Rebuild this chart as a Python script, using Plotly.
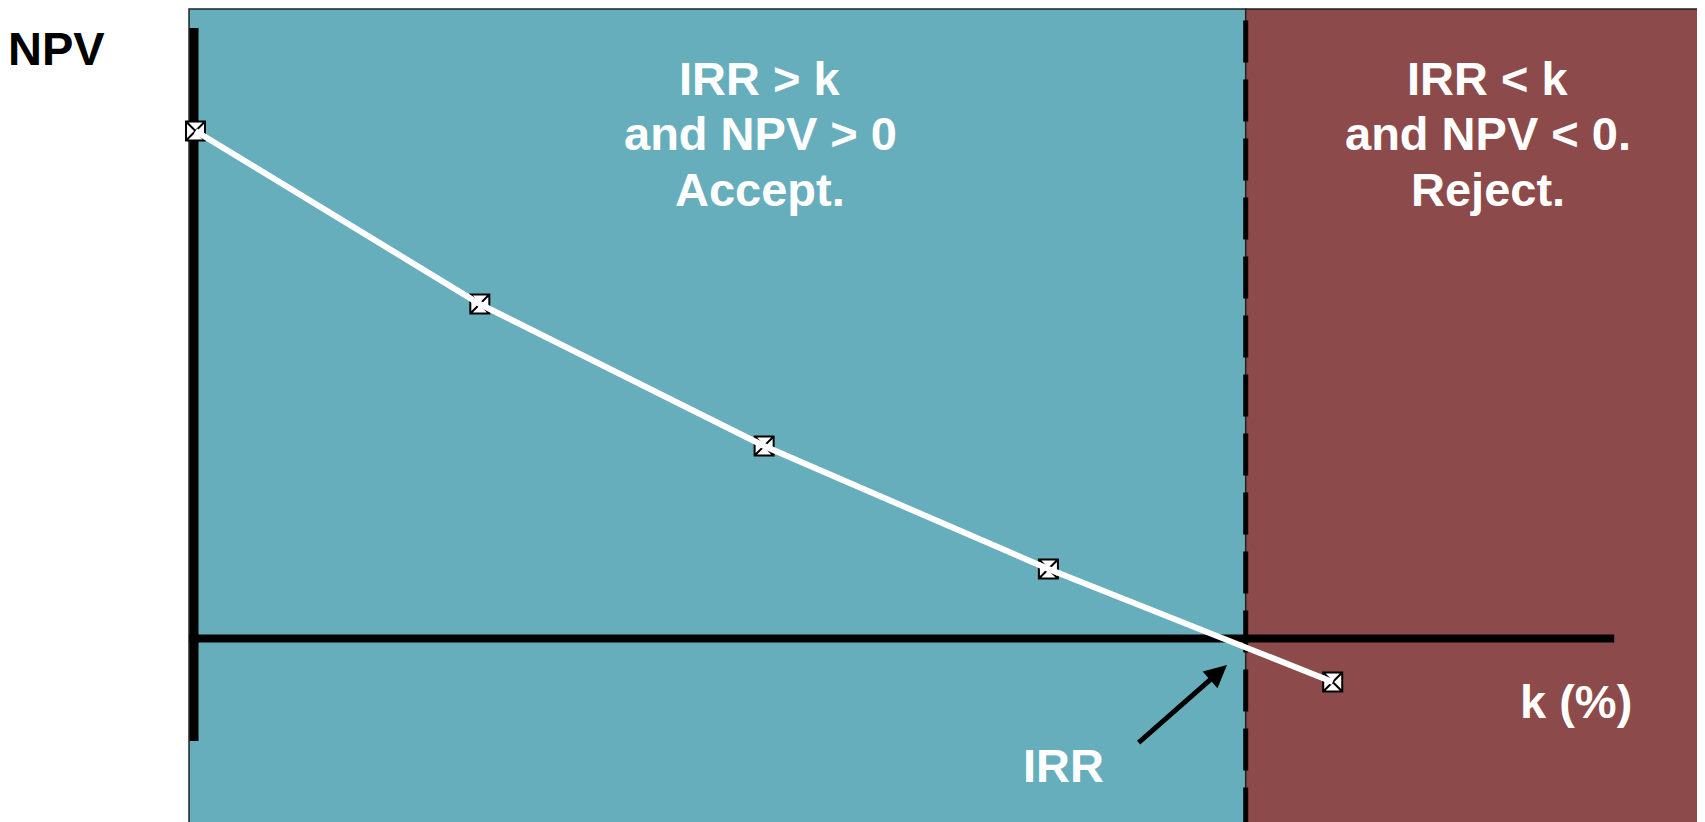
import plotly.graph_objects as go

# discount rate k (%) and NPV
k_rates = [0, 5, 10, 15, 20]
npv_vals = [507.5, 334.5, 192.5, 69.5, -43.5]
irr = 18.47

TEAL = "#67AEBD"
MAROON = "#8C4A4A"
FONT = "Liberation Sans, Arial, sans-serif"

fig = go.Figure()

# markers first, the white line goes over them like in the original
fig.add_trace(go.Scatter(
    x=k_rates, y=npv_vals, mode="markers",
    marker=dict(symbol="square-x", size=19, color="white",
                line=dict(color="black", width=2)),
    hoverinfo="skip", showlegend=False))
fig.add_trace(go.Scatter(
    x=k_rates, y=npv_vals, mode="lines",
    line=dict(color="white", width=6),
    hoverinfo="skip", showlegend=False))

shapes = [
    # accept / reject zones
    dict(type="rect", x0=-0.114, x1=irr, y0=-250, y1=629.5,
         fillcolor=TEAL, line=dict(color="#222", width=1.5), layer="below"),
    dict(type="rect", x0=irr, x1=30, y0=-250, y1=629.5,
         fillcolor=MAROON, line=dict(color="#222", width=1.5), layer="below"),
    # axes
    dict(type="line", x0=-0.026, x1=-0.026, y0=-102.5, y1=610.5,
         line=dict(color="black", width=9), layer="below"),
    dict(type="line", x0=-0.109, x1=24.95, y0=0, y1=0,
         line=dict(color="black", width=8), layer="below"),
    # IRR marker line
    dict(type="line", x0=irr, x1=irr, y0=-250, y1=626,
         line=dict(color="black", width=5, dash="42px,17px"), layer="below"),
]

white = dict(family=FONT, size=47, color="white", weight="bold")
ann = []
left_lines = ["IRR > k", "and NPV > 0", "Accept."]
right_lines = ["IRR < k", "and NPV < 0.", "Reject."]
line_y = [560.5, 505, 449.5]
for txt, yy in zip(left_lines, line_y):
    ann.append(dict(x=9.93, y=yy, text=txt, showarrow=False, font=white,
                    xanchor="center", yanchor="middle"))
for txt, yy in zip(right_lines, line_y):
    ann.append(dict(x=22.73, y=yy, text=txt, showarrow=False, font=white,
                    xanchor="center", yanchor="middle"))

ann.append(dict(x=-2.436, y=590, text="NPV", showarrow=False,
                font=dict(family=FONT, size=47, color="black", weight="bold"),
                xanchor="center", yanchor="middle"))
ann.append(dict(x=24.28, y=-63, text="k (%)", showarrow=False, font=white,
                xanchor="center", yanchor="middle"))
ann.append(dict(x=15.26, y=-127, text="IRR", showarrow=False, font=white,
                xanchor="center", yanchor="middle"))
# arrow pointing at the IRR
ann.append(dict(x=18.14, y=-26.5, ax=16.56, ay=-105.5, xref="x", yref="y",
                axref="x", ayref="y", text="", showarrow=True,
                arrowhead=2, arrowsize=0.9, arrowwidth=5, arrowcolor="black"))

# page body has an 8px margin, ranges are shifted to compensate
fig.update_layout(
    width=1705, height=822,
    margin=dict(l=0, r=0, t=0, b=0),
    paper_bgcolor="white", plot_bgcolor="white",
    shapes=shapes, annotations=ann,
    xaxis=dict(range=[-3.2976, 26.688], visible=False, fixedrange=True),
    yaxis=dict(range=[-191.5, 630.5], visible=False, fixedrange=True),
)

fig.write_html("out.html")
